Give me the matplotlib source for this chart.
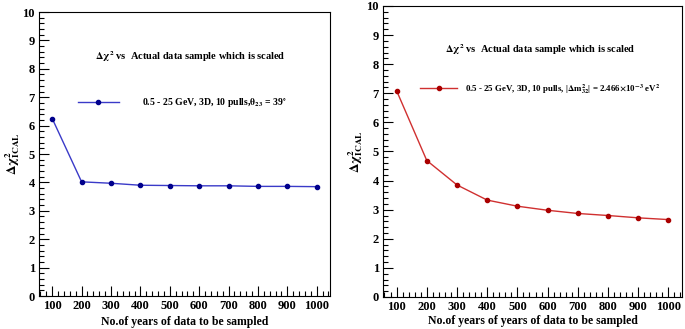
import numpy as np
import matplotlib.pyplot as plt
from matplotlib.ticker import MultipleLocator

plt.rcParams['font.family'] = 'Liberation Serif'
plt.rcParams['font.weight'] = 'bold'
plt.rcParams['mathtext.fontset'] = 'stix'
plt.rcParams['mathtext.default'] = 'bf'

# Data
years = [100, 200, 300, 400, 500, 600, 700, 800, 900, 1000]
chi2_theta = [6.25, 4.02, 3.97, 3.90, 3.89, 3.88, 3.88, 3.86, 3.86, 3.85]
chi2_dm = [7.09, 4.69, 3.85, 3.33, 3.12, 2.98, 2.87, 2.80, 2.72, 2.66]

title = r'$\Delta\chi^2$ vs  Actual data sample which is scaled'
label_left = r'0.5 - 25 GeV, 3D, 10 pulls,$\theta_{23}$ = 39$^{\circ}$'
label_right = r'0.5 - 25 GeV, 3D, 10 pulls, |$\Delta m^2_{32}$| = 2.466$\times$10$^{-3}$ eV$^2$'
ylab = r'$\Delta\chi^2_{\mathrm{\mathbf{ICAL}}}$'

fig = plt.figure(figsize=(6.85, 3.29), dpi=100)
ax1 = fig.add_axes([0.0569, 0.1003, 0.4248, 0.8632])
ax2 = fig.add_axes([0.5591, 0.0973, 0.4365, 0.8845])


def style(ax):
    ax.set_xlim(55, 1045)
    ax.set_ylim(0, 10)
    ax.set_xticks(years)
    ax.xaxis.set_minor_locator(MultipleLocator(20))
    ax.yaxis.set_major_locator(MultipleLocator(1))
    ax.yaxis.set_minor_locator(MultipleLocator(0.2))
    ax.tick_params(which='both', direction='in', top=False, right=False,
                   labelsize=9, width=0.8)
    ax.tick_params(which='major', length=7, pad=3)
    ax.tick_params(which='minor', length=3.5)
    for lab in ax.get_xticklabels() + ax.get_yticklabels():
        lab.set_fontweight('bold')
    for s in ax.spines.values():
        s.set_linewidth(0.8)


# left panel
style(ax1)
ax1.plot(years, chi2_theta, color='#3a3ac8', lw=1.0, marker='o', ms=3,
         mfc='#00008c', mec='#00008c', label=label_left)
ax1.set_xlabel('No.of years of data to be sampled', fontsize=8.5, fontweight='bold',
               labelpad=3)
ax1.set_ylabel(ylab, fontsize=9.5)
ax1.yaxis.set_label_coords(-0.06, 0.5)
ax1.text(0.519, 0.842, title, transform=ax1.transAxes, ha='center', va='center',
         fontsize=7.5, fontweight='bold')
ax1.legend(loc='center left', bbox_to_anchor=(0.134, 0.68), frameon=False,
           borderpad=0, borderaxespad=0, handlelength=4.2, handletextpad=2.4,
           prop={'size': 7, 'weight': 'bold'})

# right panel
style(ax2)
ax2.plot(years, chi2_dm, color='#d03030', lw=1.0, marker='o', ms=3,
         mfc='#aa0000', mec='#aa0000', label=label_right)
ax2.set_xlabel('No.of years of years of data to be sampled', fontsize=8.5,
               fontweight='bold', labelpad=1)
ax2.set_ylabel(ylab, fontsize=9.5)
ax2.yaxis.set_label_coords(-0.06, 0.5)
ax2.text(0.525, 0.852, title, transform=ax2.transAxes, ha='center', va='center',
         fontsize=7.5, fontweight='bold')
ax2.legend(loc='center left', bbox_to_anchor=(0.124, 0.715), frameon=False,
           borderpad=0, borderaxespad=0, handlelength=4.2, handletextpad=0.8,
           prop={'size': 6.4, 'weight': 'bold'})

fig.savefig('out.png', dpi=100)
